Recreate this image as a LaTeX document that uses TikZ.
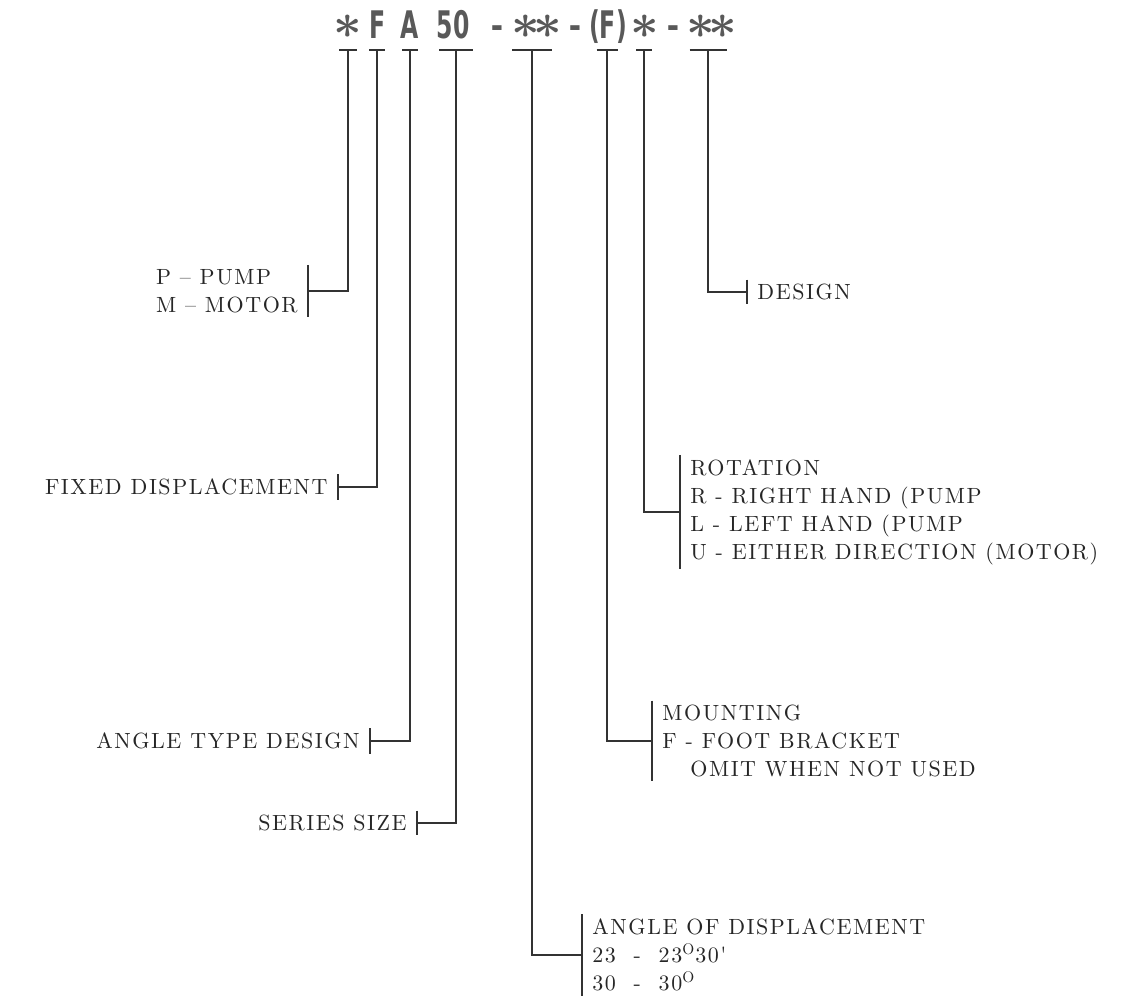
\documentclass[tikz,border=0pt]{standalone}
\usepackage{fontspec}
\usepackage{tikz}
\usetikzlibrary{arrows.meta}
\newfontfamily\codefont[FakeStretch=0.62]{DejaVu Sans}
\newfontfamily\lblfont{lmroman10-regular}[Extension=.otf, LetterSpace=7]

\begin{document}
\begin{tikzpicture}[
    x=0.5pt, y=-0.5pt,
    code/.style={font=\codefont\bfseries\fontsize{19}{19}\selectfont, text=black!65, inner sep=0, anchor=base},
    star/.style={font=\boldmath\fontsize{26}{26}\selectfont, text=black!65, inner sep=0, anchor=base},
    lbl/.style={align=left, inner xsep=5pt, inner ysep=2pt, font=\lblfont\fontsize{11}{14}\selectfont, text=black!85},
    lead/.style={draw=black!80, line width=0.8pt}
]
\useasboundingbox (0,0) rectangle (1137,1003);

% Model code
\node[star] (cPM) at (348,38) {$\ast$};
\node[code] (cF) at (378,38) {F};
\node[code] (cA) at (410,38) {A};
\node[code] (cSize) at (453,38) {50};
\node[code] (d1) at (497,38) {–};
\node[star] (cAng) at (537,38) {$\ast\mkern-2mu\ast$};
\node[code] (d2) at (575,38) {–};
\node[code] (cMnt) at (608,38) {(F)};
\node[star] (cRot) at (645,38) {$\ast$};
\node[code] (d3) at (673,38) {–};
\node[star] (cDes) at (712,38) {$\ast\mkern-2mu\ast$};

% Ticks under the code
\coordinate (tPM) at (348,49);
\coordinate (tF) at (377,49);
\coordinate (tA) at (410,49);
\coordinate (tSize) at (456,49);
\coordinate (tAng) at (532,49);
\coordinate (tMnt) at (607,49);
\coordinate (tRot) at (644,49);
\coordinate (tDes) at (708,49);

% Left labels
\node[lbl, anchor=east] (pm) at (308,291) {P – PUMP\\M – MOTOR};
\node[lbl, anchor=east] (fd) at (338,487) {FIXED DISPLACEMENT};
\node[lbl, anchor=east] (at) at (370,741) {ANGLE TYPE DESIGN};
\node[lbl, anchor=east] (ss) at (417,823) {SERIES SIZE};
\foreach \n in {pm,fd,at,ss}
    \draw[lead] (\n.north east) -- (\n.south east);

% Right labels
\node[lbl, anchor=west] (de) at (747,292) {DESIGN};
\node[lbl, anchor=west] (ro) at (680,512) {ROTATION\\R - RIGHT HAND (PUMP\\L - LEFT HAND (PUMP\\U - EITHER DIRECTION (MOTOR)};
\node[lbl, anchor=west] (mo) at (652,741) {MOUNTING\\F - FOOT BRACKET\\\hspace*{14pt}OMIT WHEN NOT USED};
\node[lbl, anchor=west] (ad) at (582,955) {ANGLE OF DISPLACEMENT\\23~~-~~23\textsuperscript{O}30'\\30~~-~~30\textsuperscript{O}};
\foreach \n in {de,ro,mo,ad}
    \draw[lead] (\n.north west) -- (\n.south west);

% Leaders
\draw[lead, {Bar[width=9pt]}-] (tPM) |- (pm.east);
\draw[lead, {Bar[width=8pt]}-] (tF) |- (fd.east);
\draw[lead, {Bar[width=8pt]}-] (tA) |- (at.east);
\draw[lead, {Bar[width=17pt]}-] (tSize) |- (ss.east);
\draw[lead, {Bar[width=20pt]}-] (tAng) |- (ad.west);
\draw[lead, {Bar[width=10.5pt]}-] (tMnt) |- (mo.west);
\draw[lead, {Bar[width=8pt]}-] (tRot) |- (ro.west);
\draw[lead, {Bar[width=18.5pt]}-] (tDes) |- (de.west);

\end{tikzpicture}
\end{document}
